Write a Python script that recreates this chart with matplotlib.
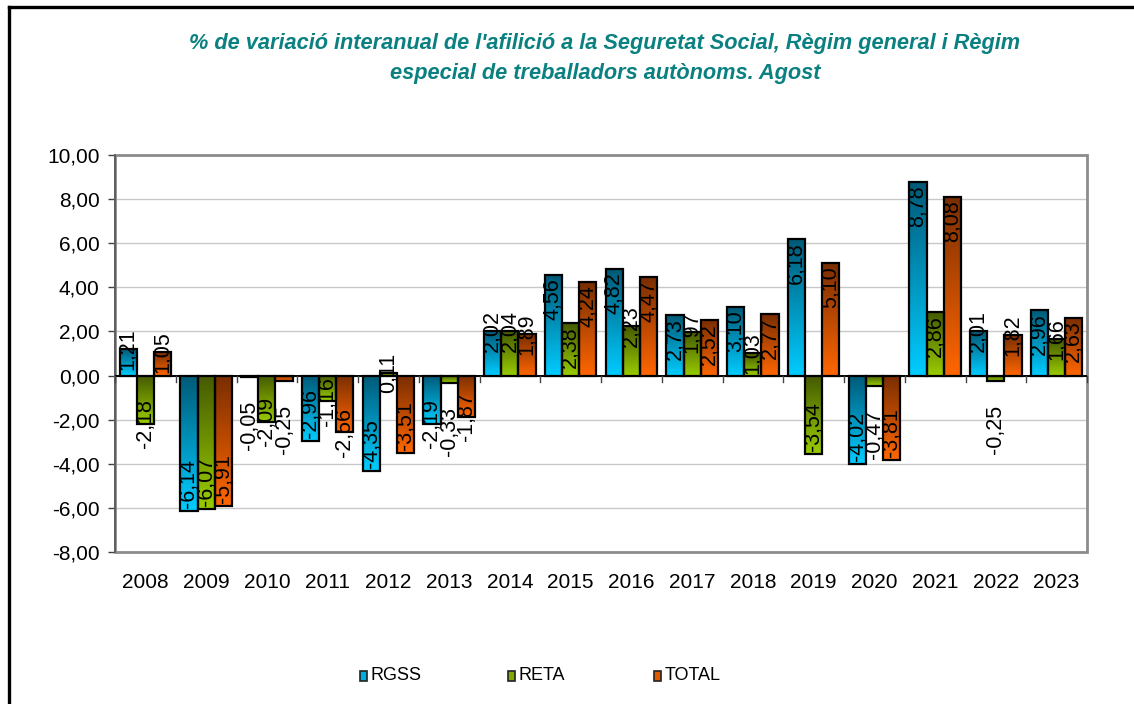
import matplotlib
matplotlib.use("Agg")
import matplotlib.pyplot as plt
import numpy as np
from matplotlib.patches import Rectangle
from matplotlib.lines import Line2D
import matplotlib.transforms as mtransforms

years = ["2008", "2009", "2010", "2011", "2012", "2013", "2014", "2015",
         "2016", "2017", "2018", "2019", "2020", "2021", "2022", "2023"]
rgss = [1.21, -6.14, -0.05, -2.96, -4.35, -2.19, 2.02, 4.56,
        4.82, 2.73, 3.10, 6.18, -4.02, 8.78, 2.01, 2.96]
reta = [-2.18, -6.07, -2.09, -1.16, 0.11, -0.33, 2.04, 2.38,
        2.23, 1.97, 1.03, -3.54, -0.47, 2.86, -0.25, 1.66]
total = [1.05, -5.91, -0.25, -2.56, -3.51, -1.87, 1.89, 4.24,
         4.47, 2.52, 2.77, 5.10, -3.81, 8.08, 1.82, 2.63]
series_names = ["RGSS", "RETA", "TOTAL"]
yticks = [-8, -6, -4, -2, 0, 2, 4, 6, 8, 10]

title1 = "% de variació interanual de l'afilició a la Seguretat Social, Règim general i Règim"
title2 = "especial de treballadors autònoms. Agost"

FONT = "Liberation Sans"
plt.rcParams["font.family"] = [FONT, "DejaVu Sans"]

# gradient colours (top, bottom)
grads = [("#005a78", "#00ccff"), ("#455a00", "#99cc00"), ("#7a2e00", "#ff6600")]
legend_cols = ["#00aee0", "#7fa800", "#e05a00"]

W, H = 1134, 704
fig = plt.figure(figsize=(W / 100, H / 100), dpi=100)
fig.patch.set_facecolor("white")

# outer frame (top and left)
fig.add_artist(Line2D([9 / W, 9 / W], [0, 1 - 7 / H], color="black", lw=2.4,
                      transform=fig.transFigure))
fig.add_artist(Line2D([9 / W, 1], [1 - 7 / H, 1 - 7 / H], color="black", lw=2.4,
                      transform=fig.transFigure))

# title
tcol = "#0a8080"
fig.text(605 / W, 1 - 43 / H, title1, ha="center", va="center", color=tcol,
         fontsize=15.7, fontweight="bold", fontstyle="italic")
fig.text(605 / W, 1 - 74 / H, title2, ha="center", va="center", color=tcol,
         fontsize=15.7, fontweight="bold", fontstyle="italic")

left, right, top, bottom = 115, 1087, 155, 552
ax = fig.add_axes([left / W, 1 - bottom / H, (right - left) / W, (bottom - top) / H])
n = len(years)
ax.set_xlim(-0.5, n - 0.5)
ax.set_ylim(-8, 10)

x = np.arange(n)
bw = 0.283
data = [rgss, reta, total]
ax.set_axisbelow(True)
ax.yaxis.grid(True, color="#c8c8c8", lw=1.0)
ax.set_yticks(yticks)
ax.set_yticklabels([f"{v:.2f}".replace(".", ",") for v in yticks], fontsize=15)
ax.tick_params(axis="y", direction="out", length=5, width=1, color="#404040", pad=6)

for s, vals in enumerate(data):
    pos = x + (s - 1) * bw
    bars = ax.bar(pos, vals, width=bw, facecolor="none", edgecolor="black",
                  linewidth=1.6, zorder=4)
    c_top = np.array(matplotlib.colors.to_rgb(grads[s][0]))
    c_bot = np.array(matplotlib.colors.to_rgb(grads[s][1]))
    t = np.linspace(0, 1, 64)[:, None]
    grad = (c_top[None, :] * (1 - t) + c_bot[None, :] * t)[:, None, :]
    for b in bars:
        x0 = b.get_x()
        x1 = x0 + b.get_width()
        y0 = min(b.get_y(), b.get_y() + b.get_height())
        y1 = max(b.get_y(), b.get_y() + b.get_height())
        im = ax.imshow(grad, extent=[x0, x1, y0, y1], origin="upper",
                       aspect="auto", zorder=3, interpolation="bilinear")
        im.set_clip_path(b)

ax.set_xlim(-0.5, n - 0.5)
ax.set_ylim(-8, 10)

# data labels
px_per_unit = (bottom - top) / 18.0
for s, vals in enumerate(data):
    pos = x + (s - 1) * bw
    for xi, v in zip(pos, vals):
        lab = f"{v:.2f}".replace(".", ",")
        L = 52 if v < 0 else 45
        bar_px = abs(v) * px_per_unit
        if bar_px >= L + 6:
            if v > 0:
                va, dy = "top", -3
            else:
                va, dy = "bottom", 3
        elif abs(v) < 1 and v < 0:
            va, dy = "top", -24
        else:
            va, dy = "center", 0
        ax.annotate(lab, (xi, v), xytext=(0, dy * 0.72), textcoords="offset points",
                    rotation=90, ha="center", va=va, fontsize=15.5, color="black",
                    zorder=6)

# spines / border
for sp in ["top", "right", "bottom"]:
    ax.spines[sp].set_visible(False)
ax.spines["left"].set_color("#555555")
ax.spines["left"].set_linewidth(1.2)
ax.add_patch(Rectangle((0, 0), 1, 1, transform=ax.transAxes, fill=False,
                       edgecolor="#8c8c8c", lw=2.0, zorder=1, clip_on=False))
# zero line
ax.axhline(0, color="black", lw=1.4, zorder=5)
# x tick marks at category boundaries on zero line
ax.set_xticks([])
for bnd in np.arange(-0.5, n, 1.0):
    ax.plot([bnd, bnd], [0, -6 / px_per_unit], color="#444444", lw=1.0,
            zorder=5, clip_on=False)
# year labels
blend = mtransforms.blended_transform_factory(ax.transData, fig.transFigure)
for xi, yl in zip(x, years):
    ax.text(xi, 1 - 583 / H, yl, transform=blend, ha="center", va="center",
            fontsize=15, color="black")

# legend (manual)
leg_items = [(360, "RGSS"), (508, "RETA"), (654, "TOTAL")]
for (lx, name), col in zip(leg_items, legend_cols):
    fig.add_artist(Rectangle((lx / W, 1 - 681 / H), 7 / W, 10 / H,
                             transform=fig.transFigure, facecolor=col,
                             edgecolor="#222222", lw=1.2))
    fig.text((lx + 11) / W, 1 - 676 / H, name, ha="left", va="center",
             fontsize=13, color="black")

fig.savefig("out.png", dpi=100)
